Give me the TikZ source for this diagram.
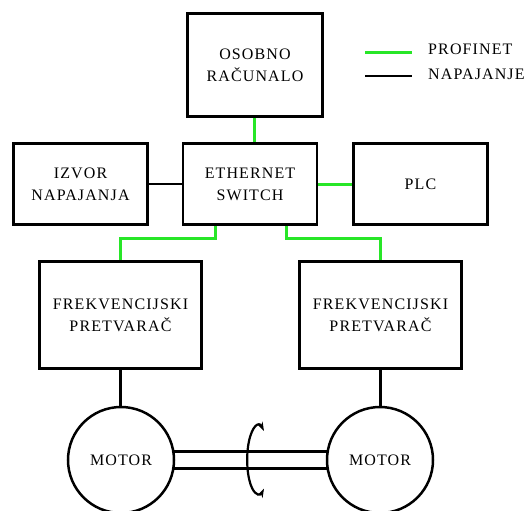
\documentclass[tikz,border=0pt]{standalone}
\usepackage{fontspec}
\setmainfont{Liberation Serif}[LetterSpace=7]
\usetikzlibrary{arrows.meta}
\definecolor{pgreen}{RGB}{40,230,40}
\begin{document}
\begin{tikzpicture}[x=1pt,y=-1pt,
  every node/.style={font=\fontsize{16}{22}\selectfont, align=center, inner sep=0pt},
  box/.style={draw, line width=2.8pt, minimum width=#1},
  motor/.style={draw, circle, line width=2.5pt, minimum size=106pt},
  pn/.style={draw=pgreen, line width=3pt},
  pw/.style={draw=black, line width=2.5pt},
  rot/.style={line width=2.2pt, {Stealth[length=9pt,width=6pt]}-{Stealth[length=9pt,width=6pt]}}
]
\useasboundingbox (0,0) rectangle (530,511);
\node[box=135pt, minimum height=103pt] (pc) at (255,65) {OSOBNO\\RAČUNALO};
\node[box=134pt, minimum height=81pt] (izvor) at (80.5,184) {IZVOR\\NAPAJANJA};
\node[box=134pt, minimum height=81pt] (sw) at (250,184) {ETHERNET\\SWITCH};
\node[box=134pt, minimum height=81pt] (plc) at (420.5,184) {PLC};
\node[box=162pt, minimum height=107pt] (f1) at (120.5,315) {FREKVENCIJSKI\\PRETVARAČ};
\node[box=162pt, minimum height=107pt] (f2) at (380.5,315) {FREKVENCIJSKI\\PRETVARAČ};
\node[motor] (m1) at (121,460) {MOTOR};
\node[motor] (m2) at (380,460) {MOTOR};
% legend
\coordinate (g1) at (365,53);
\coordinate (b1) at (365,76);
\draw[pn] (g1) -- ++(47,0);
\draw[pw] (b1) -- ++(47,0);
\node[anchor=west] (lp) at (428,49) {PROFINET};
\node[anchor=west] (ln) at (428,74) {NAPAJANJE};
% connectors
\draw[pn] ([xshift=-1pt]pc.south) -- ([xshift=-1pt]pc.south |- sw.north);
\draw[pw] (izvor) -- (sw);
\draw[pn] (sw) -- (plc);
\draw[pn] ([xshift=-35pt]sw.south) -- ++(0,13) -| (f1.north);
\draw[pn] ([xshift=36pt]sw.south) -- ++(0,13) -| (f2.north);
\draw[pw] (f1.south) -- (f1.south |- m1.north);
\draw[pw] (f2.south) -- (f2.south |- m2.north);
\draw[pw] ([shift={(53pt,8.5pt)}]m1.center) -- ([shift={(-53pt,8.5pt)}]m2.center);
\draw[pw] ([shift={(53pt,-8.5pt)}]m1.center) -- ([shift={(-53pt,-8.5pt)}]m2.center);
\draw[rot] (264,431) arc[start angle=58, end angle=302, x radius=11pt, y radius=34pt];
\end{tikzpicture}
\end{document}
